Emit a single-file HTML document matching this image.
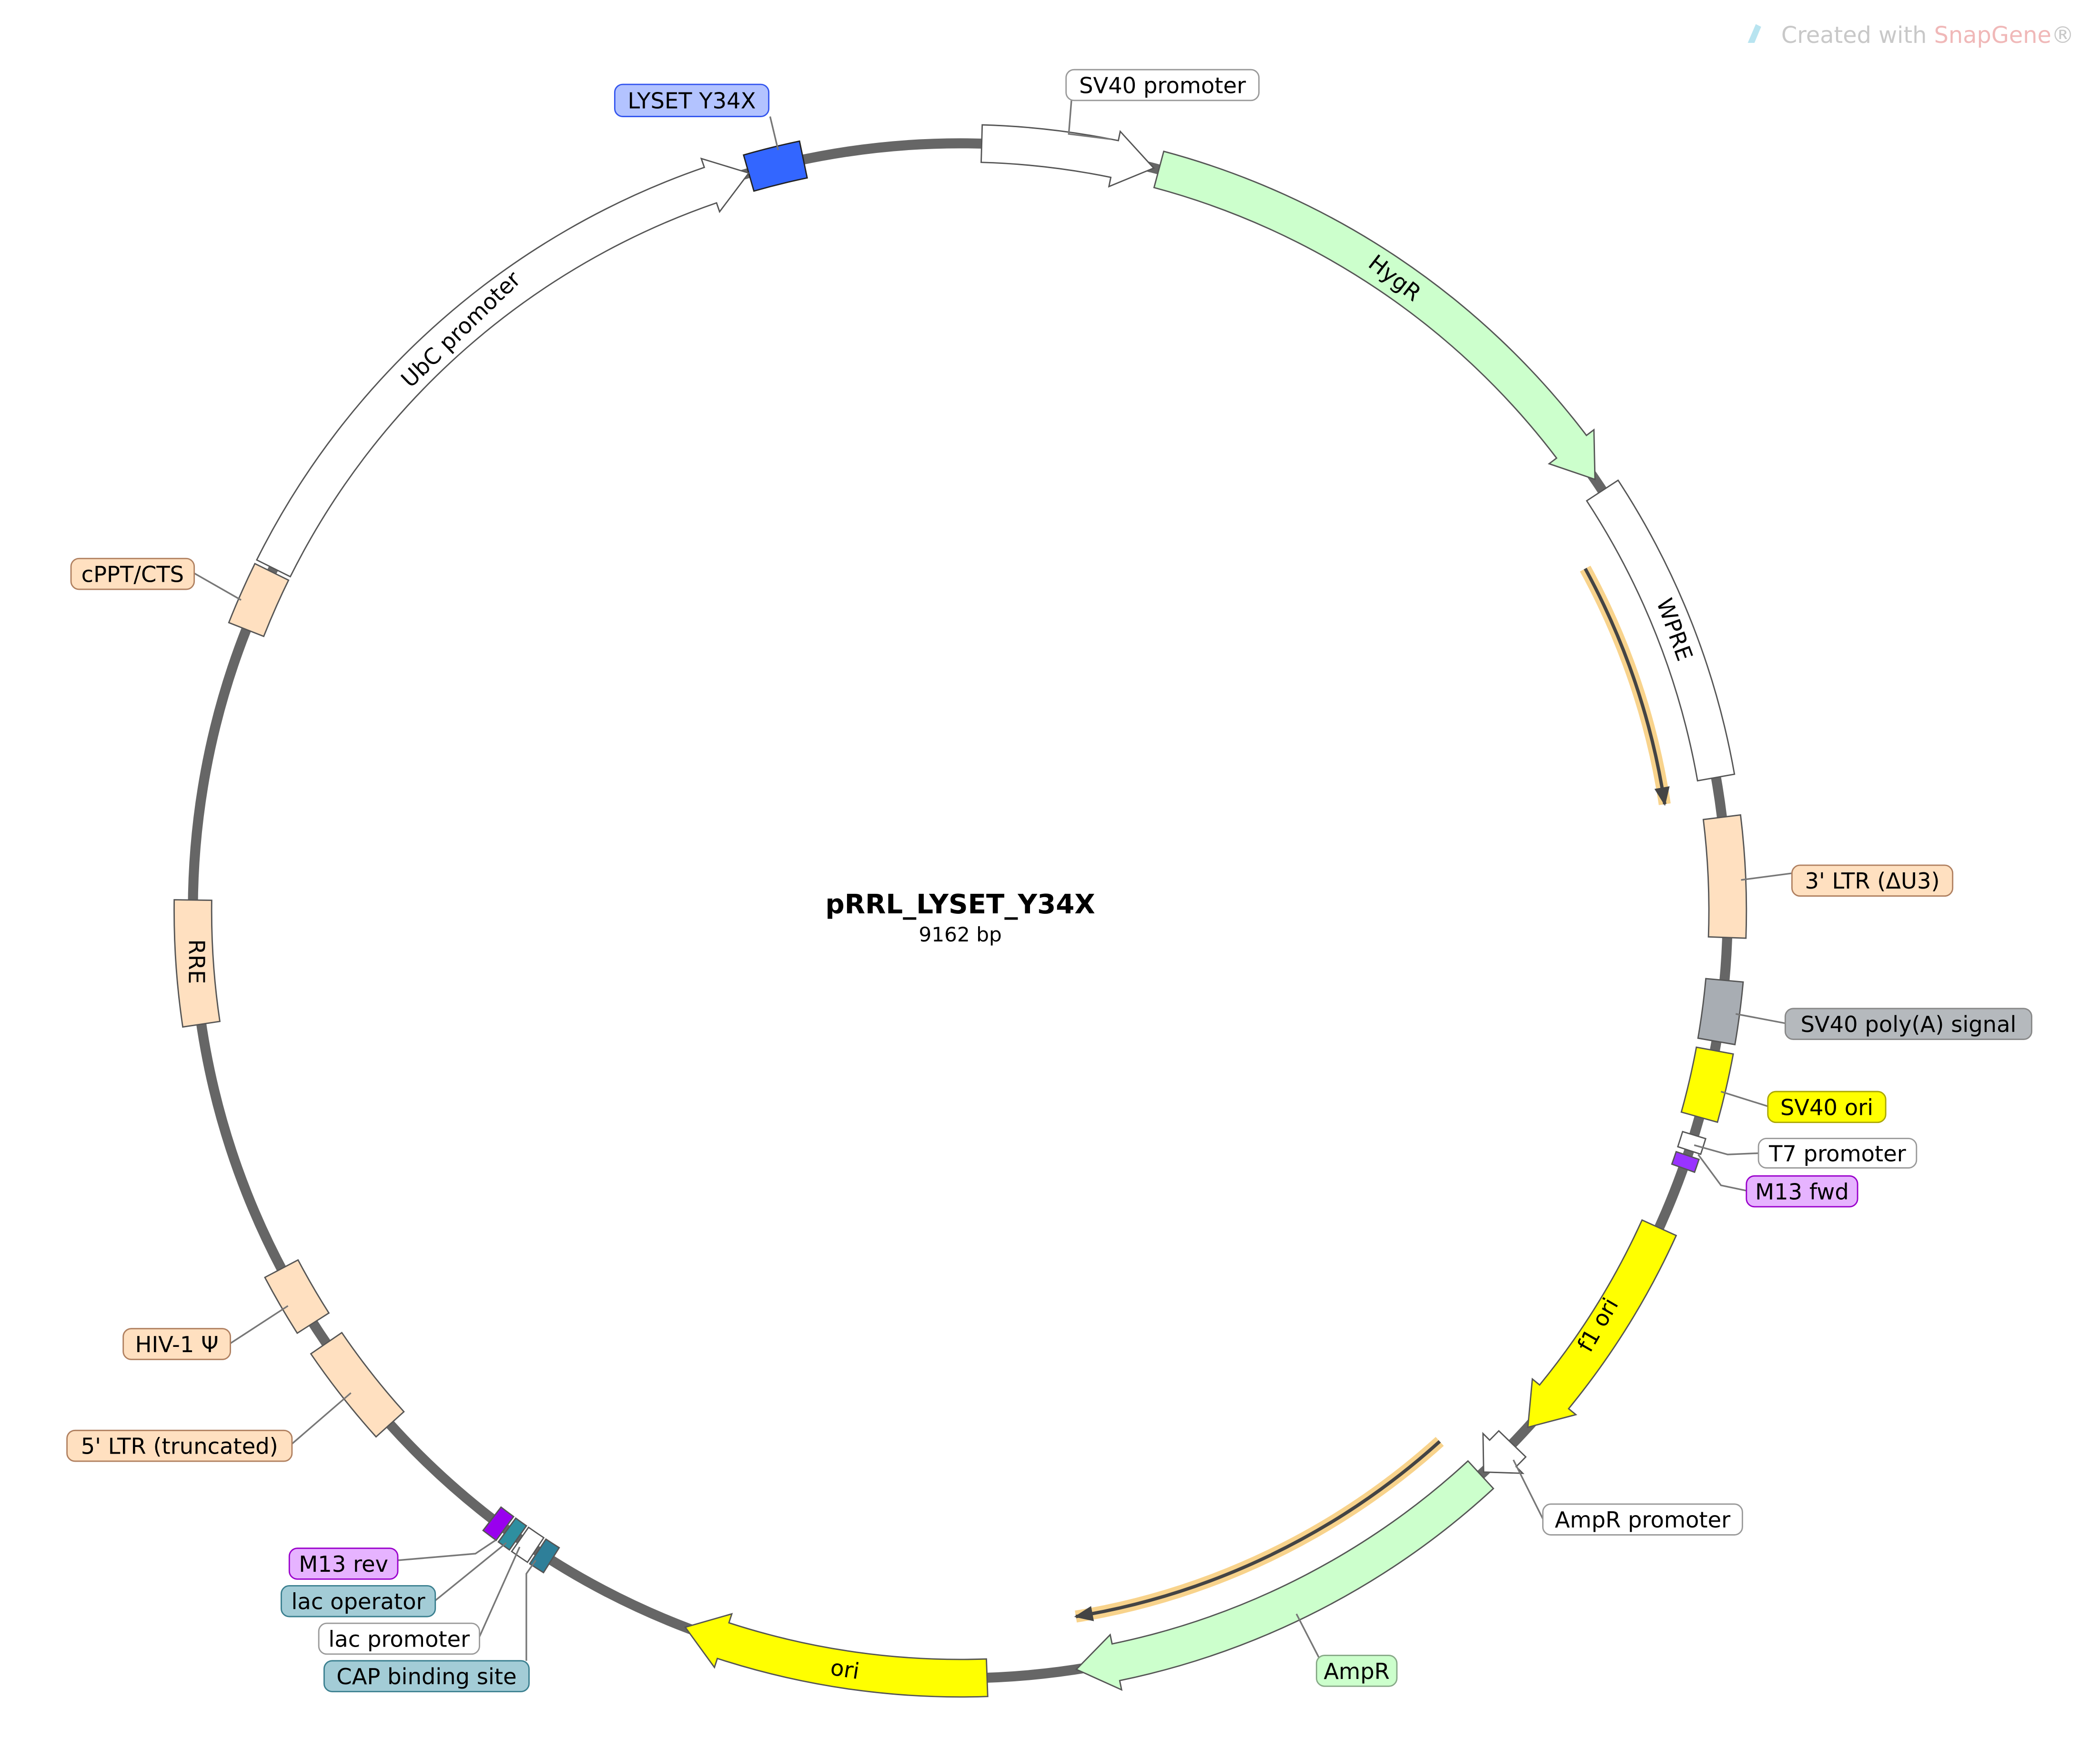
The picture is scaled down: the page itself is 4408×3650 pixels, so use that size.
<!DOCTYPE html>
<html><head><meta charset="utf-8"><style>
html,body{margin:0;padding:0;background:#fff;}
svg{display:block;}
text{font-family:"DejaVu Sans","Liberation Sans",sans-serif;}
</style></head><body>
<svg id="s" width="4408" height="3650" viewBox="0 0 1568 1298.4" xmlns="http://www.w3.org/2000/svg">
<rect width="1568" height="1298.4" fill="#fff"/>
<circle cx="717" cy="680" r="573" fill="none" stroke="#666" stroke-width="7.5"/>
<g id="feat"></g>
<g id="lead" stroke="#777" stroke-width="1.2" fill="none">
<line x1="575" y1="87" x2="581" y2="112"/>
<polyline points="800,75 798,100 830,104"/>
<line x1="1300" y1="657" x2="1338" y2="652"/>
<line x1="1296" y1="757" x2="1333" y2="764"/>
<line x1="1285" y1="815" x2="1320" y2="826"/>
<polyline points="1265,855 1290,862 1313,861"/>
<polyline points="1268,862 1285,885 1304,889"/>
<polyline points="1130,1090 1152,1134"/>
<polyline points="968,1205 985,1238"/>
<line x1="145" y1="428" x2="180" y2="448"/>
<line x1="172" y1="1003" x2="215" y2="975"/>
<line x1="218" y1="1078" x2="262" y2="1040"/>
<polyline points="297,1165 355,1160 370,1150"/>
<polyline points="325,1195 362,1165 378,1152"/>
<polyline points="358,1222 388,1155"/>
<polyline points="393,1240 393,1175 400,1165"/>
</g>
<g font-size="16.5" fill="#000">
<rect x="459" y="63" width="115" height="24" rx="6" fill="#b3c3ff" stroke="#3355ee"/>
<text x="516.5" y="81" text-anchor="middle">LYSET Y34X</text>
<rect x="796" y="52" width="144" height="23" rx="6" fill="#fff" stroke="#999"/>
<text x="868" y="69.5" text-anchor="middle">SV40 promoter</text>
<rect x="1338" y="646" width="120" height="23" rx="6" fill="#ffe0c0" stroke="#b08060"/>
<text x="1398" y="663.5" text-anchor="middle">3' LTR (ΔU3)</text>
<rect x="1333" y="753" width="184" height="23" rx="6" fill="#b5b9bd" stroke="#888"/>
<text x="1425" y="770.5" text-anchor="middle">SV40 poly(A) signal</text>
<rect x="1320" y="815" width="88" height="23" rx="6" fill="#ffff00" stroke="#aaa600"/>
<text x="1364" y="832.5" text-anchor="middle">SV40 ori</text>
<rect x="1313" y="850" width="118" height="22" rx="6" fill="#fff" stroke="#999"/>
<text x="1372" y="867" text-anchor="middle">T7 promoter</text>
<rect x="1304" y="878" width="83" height="23" rx="6" fill="#e6b3ff" stroke="#9a00cc"/>
<text x="1345.5" y="895.5" text-anchor="middle">M13 fwd</text>
<rect x="1152" y="1123" width="149" height="23" rx="6" fill="#fff" stroke="#999"/>
<text x="1226.5" y="1140.5" text-anchor="middle">AmpR promoter</text>
<rect x="983" y="1236" width="60" height="23" rx="6" fill="#ccffcc" stroke="#88aa88"/>
<text x="1013" y="1253.5" text-anchor="middle">AmpR</text>
<rect x="53" y="417" width="92" height="23" rx="6" fill="#ffe0c0" stroke="#b08060"/>
<text x="99" y="434.5" text-anchor="middle">cPPT/CTS</text>
<rect x="92" y="992" width="80" height="23" rx="6" fill="#ffe0c0" stroke="#b08060"/>
<text x="132" y="1009.5" text-anchor="middle">HIV-1 Ψ</text>
<rect x="50" y="1068" width="168" height="23" rx="6" fill="#ffe0c0" stroke="#b08060"/>
<text x="134" y="1085.5" text-anchor="middle">5' LTR (truncated)</text>
<rect x="216" y="1156" width="81" height="23" rx="6" fill="#e6b3ff" stroke="#9a00cc"/>
<text x="256.5" y="1173.5" text-anchor="middle">M13 rev</text>
<rect x="210" y="1184" width="115" height="23" rx="6" fill="#a3ccd6" stroke="#3a7f8f"/>
<text x="267.5" y="1201.5" text-anchor="middle">lac operator</text>
<rect x="238" y="1212" width="120" height="23" rx="6" fill="#fff" stroke="#999"/>
<text x="298" y="1229.5" text-anchor="middle">lac promoter</text>
<rect x="242" y="1240" width="153" height="23" rx="6" fill="#a3ccd6" stroke="#3a7f8f"/>
<text x="318.5" y="1257.5" text-anchor="middle">CAP binding site</text>
<text transform="translate(1038,212) rotate(38)" text-anchor="middle">HygR</text>
<text transform="translate(1245,472) rotate(70)" text-anchor="middle">WPRE</text>
<text transform="translate(348,250) rotate(-44)" text-anchor="middle">UbC promoter</text>
<text transform="translate(1198,992) rotate(-60)" text-anchor="middle">f1 ori</text>
<text transform="translate(630,1252) rotate(9)" text-anchor="middle">ori</text>
<text transform="translate(141,718) rotate(90)" text-anchor="middle">RRE</text>
<text x="717" y="682" text-anchor="middle" font-weight="bold" font-size="20">pRRL_LYSET_Y34X</text>
<text x="717" y="703" text-anchor="middle" font-size="15">9162 bp</text>
<text x="1330" y="32" font-size="17" fill="#c8c8c8">Created with <tspan fill="#f0b8b8">SnapGene</tspan>®</text>
<path d="M1305,32 l6,-14 l4,2 l-5,12z" fill="#b8e4f0"/>
</g>
</svg>
<script>
var cx=717,cy=680,R=573,w=14,e=7,NS="http://www.w3.org/2000/svg";
function pt(r,a){a*=Math.PI/180;return (cx+r*Math.sin(a)).toFixed(2)+","+(cy-r*Math.cos(a)).toFixed(2);}
function arc(r,a1,a2){var l=Math.abs(a2-a1)>180?1:0,s=a2>a1?1:0;return " A"+r+","+r+" 0 "+l+" "+s+" "+pt(r,a2);}
var g=document.getElementById("feat");
function add(d,fill,stroke,sw){var p=document.createElementNS(NS,"path");p.setAttribute("d",d);p.setAttribute("fill",fill);p.setAttribute("stroke",stroke||"#555");p.setAttribute("stroke-width",sw||1);g.appendChild(p);}
function block(a1,a2,fill,stroke,ww){ww=ww||w;var ro=R+ww,ri=R-ww;add("M"+pt(ro,a1)+arc(ro,a1,a2)+" L"+pt(ri,a2)+arc(ri,a2,a1)+"Z",fill,stroke);}
function arrow(a1,a2,fill,hd){hd=hd||3;var ro=R+w,ri=R-w,ah=a2-hd;add("M"+pt(ro,a1)+arc(ro,a1,ah)+" L"+pt(ro+e,ah)+" L"+pt(R,a2)+" L"+pt(ri-e,ah)+" L"+pt(ri,ah)+arc(ri,ah,a1)+"Z",fill);}
block(-16,-11.8,"#3366ff","#222");
arrow(1.6,14.6,"#fff");
arrow(15,55.8,"#ccffcc");
block(56.8,80,"#fff");
block(83,92,"#ffe0c0");
block(95.2,99.8,"#a8adb3");
block(100.5,105.6,"#ffff00");
block(107,108.2,"#fff","#555",9);
block(108.6,109.6,"#9933ff","#555",9);
arrow(114.4,132.3,"#ffff00");
arrow(134,137,"#fff",2);
arrow(137.3,171.3,"#ccffcc");
arrow(178,201,"#ffff00");
block(212.2,213.4,"#2e7f99","#555",11);
block(213.6,215,"#fff","#555",11);
block(215.2,216.2,"#2e8fa0","#555",11);
block(216.4,217.6,"#9900ee","#555",11);
block(228,235.7,"#ffe0c0");
block(237.5,242.2,"#ffe0c0");
block(261.5,270.8,"#ffe0c0");
block(291.5,296.2,"#ffe0c0");
arrow(296.5,344,"#fff");
function primer(r,a1,a2){
 var d="M"+pt(r,a1)+arc(r,a1,a2);
 add(d,"none","#f8d38c",9);
 add(d,"none","#444",2.5);
 var a=a2-1.3;
 add("M"+pt(r+5,a)+" L"+pt(r,a2)+" L"+pt(r-5,a)+"Z","#444","#444",1);
}
primer(532,61.3,81.4);
primer(534,137.9,170.7);
</script>
</body></html>
